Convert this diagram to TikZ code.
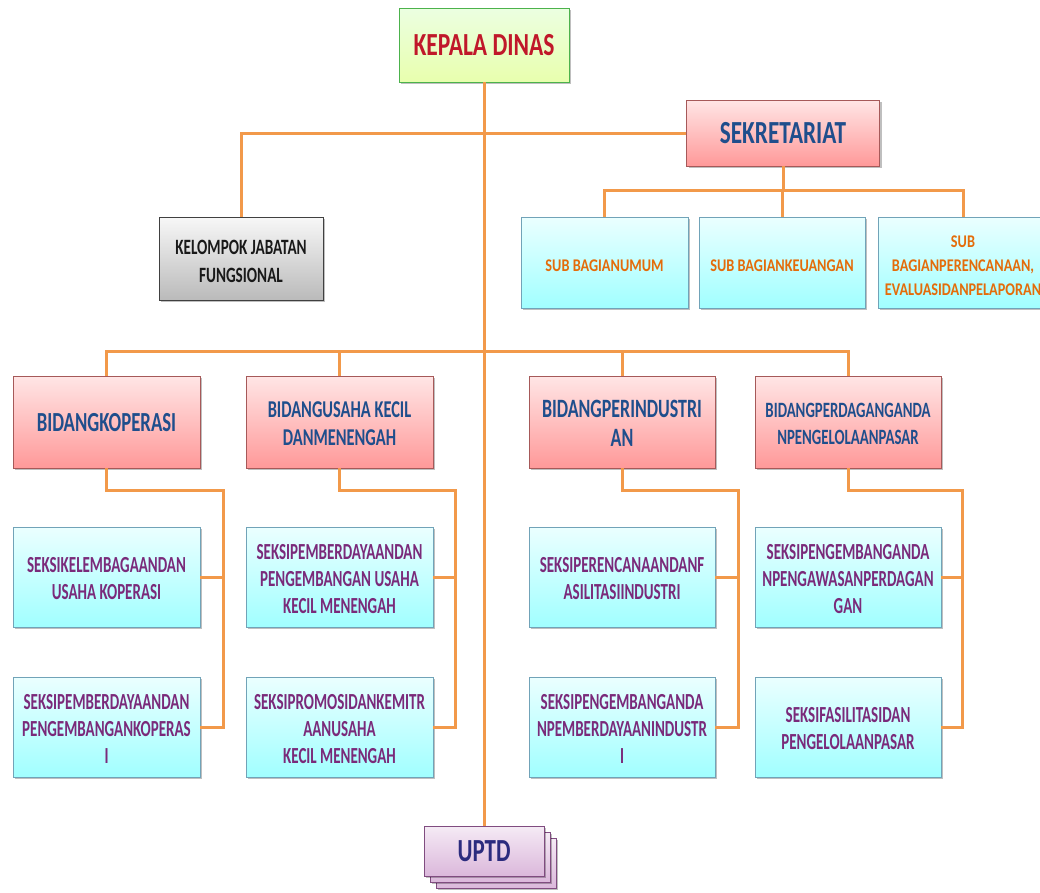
\documentclass[tikz,border=0pt]{standalone}
\usepackage{fontspec}
\setmainfont{Carlito}
\usetikzlibrary{shadows}
\definecolor{conn}{HTML}{F2994A}
\definecolor{kdred}{HTML}{C0182A}
\definecolor{bidblue}{HTML}{1F4E8C}
\definecolor{subor}{HTML}{E46C0A}
\definecolor{seksi}{HTML}{7A2A7A}
\definecolor{uptdtx}{HTML}{2B2B7E}
\newcommand{\ct}[2][0.78]{\raisebox{-4pt}[\height][\depth]{\scalebox{#1}[1.15]{\begin{tabular}{@{}c@{}}#2\end{tabular}}}}
\tikzset{
  wh/.style 2 args={minimum width=#1, minimum height=#2},
  box/.style={draw, line width=0.7pt, inner sep=0pt, rectangle,
    drop shadow={shadow xshift=2pt, shadow yshift=-2pt, fill=black, opacity=0.25}},
  greenbox/.style={box, draw=green!40!gray, top color=green!8!white!96!yellow, bottom color=green!28!yellow!32!white, text=kdred,
    font=\bfseries\fontsize{28}{30}\selectfont},
  pinkbox/.style={box, draw=red!30!gray, top color=red!10!white, bottom color=red!40!white, text=bidblue},
  cyanbox/.style={box, draw=cyan!40!gray, top color=cyan!8!white, bottom color=cyan!37!white},
  graybox/.style={box, draw=black!75, top color=black!3, bottom color=black!27, text=black!90,
    font=\bfseries\fontsize{19}{24.4}\selectfont},
  subbox/.style={cyanbox, text=subor, font=\bfseries\fontsize{15.5}{21}\selectfont},
  seksibox/.style={cyanbox, text=seksi, font=\bfseries\fontsize{20}{23.5}\selectfont},
  uptdbox/.style={box, draw=violet!40!gray, top color=violet!8!white, bottom color=violet!28!white, text=uptdtx,
    font=\bfseries\fontsize{28}{30}\selectfont},
  line/.style={draw=conn, line width=3pt}
}
\begin{document}
\begin{tikzpicture}[x=1pt,y=-1pt]
\useasboundingbox (0,0) rectangle (1040,892);
% top
\node[greenbox, wh={170pt}{74pt}] (kd) at (484,45) {\ct[0.84]{KEPALA DINAS}};
\node[pinkbox, wh={193pt}{66pt}, font=\bfseries\fontsize{28}{30}\selectfont] (sek) at (783,133) {\ct[0.83]{SEKRETARIAT}};
\node[graybox, wh={164pt}{83pt}] (kjf) at (241,258.5) {\ct[0.8]{KELOMPOK JABATAN\\FUNGSIONAL}};
% sub bagian
\node[subbox, wh={167pt}{91pt}] (sub1) at (604.5,262.5) {\ct[0.92]{SUB BAGIANUMUM}};
\node[subbox, wh={166pt}{91pt}] (sub2) at (782,262.5) {\ct[0.92]{SUB BAGIANKEUANGAN}};
\node[subbox, wh={170pt}{91pt}] (sub3) at (963,262.5) {\ct[0.92]{SUB\\BAGIANPERENCANAAN,\\EVALUASIDANPELAPORAN}};
% bidang
\node[pinkbox, wh={187pt}{92pt}, font=\bfseries\fontsize{24}{26}\selectfont] (bk) at (106.5,422) {\ct{BIDANGKOPERASI}};
\node[pinkbox, wh={187pt}{92pt}, font=\bfseries\fontsize{21}{24.4}\selectfont] (bukm) at (339.5,422) {\ct{BIDANGUSAHA KECIL\\DANMENENGAH}};
\node[pinkbox, wh={186pt}{92pt}, font=\bfseries\fontsize{23}{26}\selectfont] (bp) at (622,422) {\ct{BIDANGPERINDUSTRI\\AN}};
\node[pinkbox, wh={186pt}{92pt}, font=\bfseries\fontsize{19}{23.5}\selectfont] (bpp) at (848,422) {\ct{BIDANGPERDAGANGANDA\\NPENGELOLAANPASAR}};
% seksi
\node[seksibox, wh={187pt}{100pt}] (k1) at (106.5,577) {\ct[0.75]{SEKSIKELEMBAGAANDAN\\USAHA KOPERASI}};
\node[seksibox, wh={187pt}{100pt}] (k2) at (106.5,727) {\ct[0.75]{SEKSIPEMBERDAYAANDAN\\PENGEMBANGANKOPERAS\\I}};
\node[seksibox, wh={187pt}{100pt}] (u1) at (339.5,577) {\ct[0.75]{SEKSIPEMBERDAYAANDAN\\PENGEMBANGAN USAHA\\KECIL MENENGAH}};
\node[seksibox, wh={187pt}{100pt}] (u2) at (339.5,727) {\ct[0.75]{SEKSIPROMOSIDANKEMITR\\AANUSAHA\\KECIL MENENGAH}};
\node[seksibox, wh={186pt}{100pt}] (p1) at (622,577) {\ct[0.75]{SEKSIPERENCANAANDANF\\ASILITASIINDUSTRI}};
\node[seksibox, wh={186pt}{100pt}] (p2) at (622,727) {\ct[0.75]{SEKSIPENGEMBANGANDA\\NPEMBERDAYAANINDUSTR\\I}};
\node[seksibox, wh={186pt}{100pt}] (d1) at (848,577) {\ct[0.75]{SEKSIPENGEMBANGANDA\\NPENGAWASANPERDAGAN\\GAN}};
\node[seksibox, wh={186pt}{100pt}] (d2) at (848,727) {\ct[0.75]{SEKSIFASILITASIDAN\\PENGELOLAANPASAR}};
% uptd
\node[uptdbox, wh={120pt}{50pt}] (u3b) at (496,863) {};
\node[uptdbox, wh={120pt}{50pt}] (u2b) at (490,857) {};
\node[uptdbox, wh={120pt}{50pt}] (uptd) at (484,851) {\ct[0.82]{UPTD}};
% connectors
\draw[line] (kd.south) -- (uptd.north);
\draw[line] (sek.west) -| (kjf.north);
\coordinate (sj) at (783,190);
\draw[line] (sek.south) -- (sj);
\draw[line] (sub1.north) |- (sj) -| (sub3.north);
\draw[line] (sub2.north) -- (sub2.north |- sj);
\coordinate (hb) at (484,351);
\draw[line] (bk.north) |- (hb) -| (bpp.north);
\draw[line] (bukm.north) -- (bukm.north |- hb);
\draw[line] (bp.north) -- (bp.north |- hb);
\coordinate (c1) at (223,490);
\coordinate (c2) at (455,490);
\coordinate (c3) at (738,490);
\coordinate (c4) at (962,490);
\draw[line] (bk.south) |- (c1) |- (k2.east);
\draw[line] (k1.east) -- (c1 |- k1.east);
\draw[line] (bukm.south) |- (c2) |- (u2.east);
\draw[line] (u1.east) -- (c2 |- u1.east);
\draw[line] (bp.south) |- (c3) |- (p2.east);
\draw[line] (p1.east) -- (c3 |- p1.east);
\draw[line] (bpp.south) |- (c4) |- (d2.east);
\draw[line] (d1.east) -- (c4 |- d1.east);
\end{tikzpicture}
\end{document}
